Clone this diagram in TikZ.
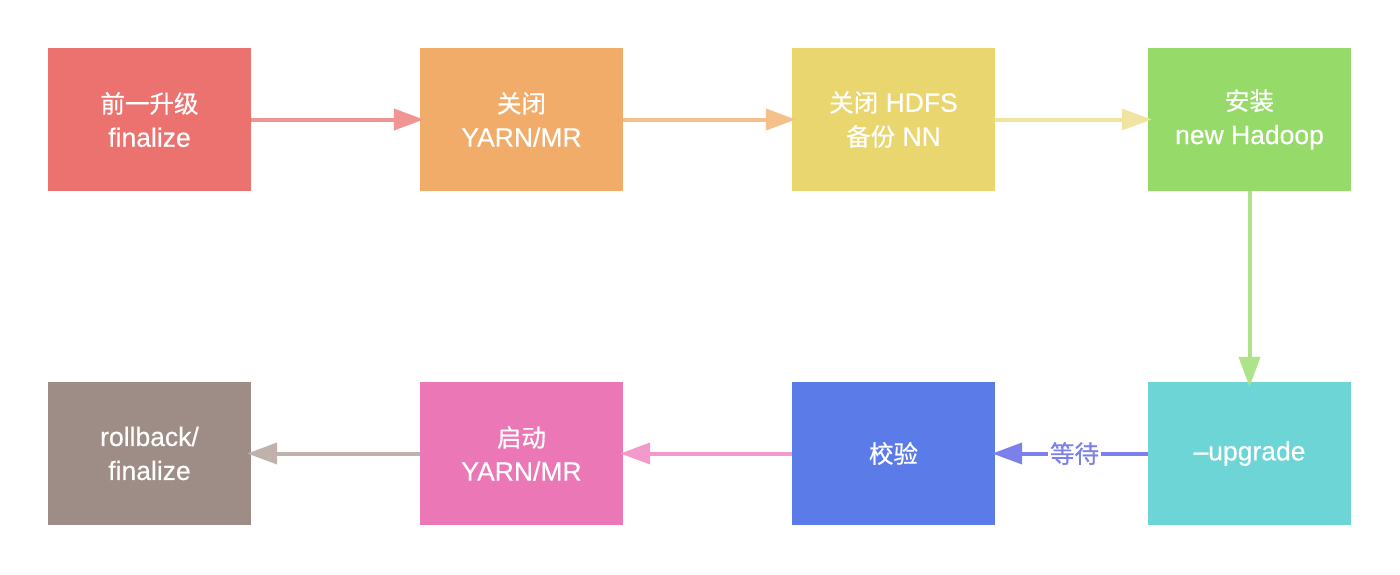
\documentclass[tikz,border=0pt]{standalone}
\usepackage{fontspec}
\setmainfont{Liberation Sans}[FakeBold=0.4]
\newfontfamily\cjkfont{Noto Sans CJK SC}[FakeBold=0.6]
\newcommand\zh[1]{{\cjkfont\fontsize{24.5}{34}\selectfont #1}}
\usetikzlibrary{arrows.meta}
\definecolor{c1}{HTML}{EC7270}\definecolor{a1}{HTML}{F19594}
\definecolor{c2}{HTML}{F2AC6A}\definecolor{a2}{HTML}{F5C08A}
\definecolor{c3}{HTML}{E9D66F}\definecolor{a3}{HTML}{F0E4A0}
\definecolor{c4}{HTML}{96DB6A}\definecolor{a4}{HTML}{AEE38B}
\definecolor{c5}{HTML}{6DD5D6}
\definecolor{c6}{HTML}{5B7BE8}\definecolor{a5}{HTML}{7B80EA}
\definecolor{c7}{HTML}{EC77B6}\definecolor{a6}{HTML}{F29ACB}
\definecolor{c8}{HTML}{9E8C86}\definecolor{a7}{HTML}{BFB1AB}
\begin{document}
\begin{tikzpicture}[x=1pt,y=-1pt,
  box/.style={minimum width=203pt,minimum height=143pt,inner sep=0pt,text=white,align=center,
    font=\fontsize{26.5}{34}\selectfont},
  conn/.style={line width=4pt,-{Triangle[length=30pt,width=21pt]},shorten >=-4pt}]
\useasboundingbox (0,0) rectangle (1400,574);
\node[box,fill=c1] (b1) at (149.5,119.5) {\zh{前一升级}\\finalize};
\node[box,fill=c2] (b2) at (521.5,119.5) {\zh{关闭}\\YARN/MR};
\node[box,fill=c3] (b3) at (893.5,119.5) {\zh{关闭} HDFS\\\zh{备份} NN};
\node[box,fill=c4] (b4) at (1249.5,119.5) {\zh{安装}\\new Hadoop};
\node[box,fill=c5] (b5) at (1249.5,453.5) {–upgrade};
\node[box,fill=c6] (b6) at (893.5,453.5) {\zh{校验}};
\node[box,fill=c7] (b7) at (521.5,453.5) {\zh{启动}\\YARN/MR};
\node[box,fill=c8] (b8) at (149.5,453.5) {rollback/\\finalize};
\draw[conn,a1] (b1) -- (b2);
\draw[conn,a2] (b2) -- (b3);
\draw[conn,a3] (b3) -- (b4);
\draw[conn,a4,shorten >=-5pt] (b4) -- (b5);
\draw[conn,a5,shorten >=-3pt] (b5) -- node[fill=white,text=a5,inner sep=2pt,pos=0.48]{\zh{等待}} (b6);
\draw[conn,a6,shorten >=-3pt] (b6) -- (b7);
\draw[conn,a7,shorten >=-4pt] (b7) -- (b8);
\end{tikzpicture}
\end{document}
